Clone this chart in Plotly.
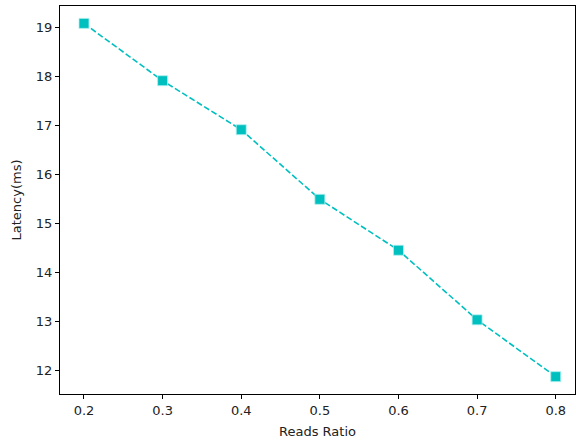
import plotly.graph_objects as go

reads_ratio = [0.2, 0.3, 0.4, 0.5, 0.6, 0.7, 0.8]
latency_ms = [19.08, 17.91, 16.91, 15.49, 14.45, 13.03, 11.87]
x_ticks = [0.2, 0.3, 0.4, 0.5, 0.6, 0.7, 0.8]
y_ticks = [12, 13, 14, 15, 16, 17, 18, 19]

fig = go.Figure()
fig.add_trace(go.Scatter(
    x=reads_ratio, y=latency_ms, mode="lines+markers",
    line=dict(color="#00bfbf", width=1.6, dash="6px,2.6px"),
    marker=dict(symbol="square", size=10, color="#00bfbf",
                line=dict(color="#b0f0f0", width=0.8)),
    showlegend=False,
))

axis_common = dict(
    showgrid=False, zeroline=False, showline=True, linecolor="black",
    linewidth=1, mirror=True, ticks="outside", ticklen=4, tickwidth=1,
    tickcolor="black", tickfont=dict(family="DejaVu Sans", size=13, color="#222"),
)
fig.update_layout(
    width=576, height=441,
    margin=dict(l=60, r=1, t=6, b=47),
    paper_bgcolor="white", plot_bgcolor="white",
    font=dict(family="DejaVu Sans", size=13, color="#222"),
    xaxis=dict(range=[0.1695, 0.8245], tickvals=x_ticks,
               ticktext=[f"{v:.1f}" for v in x_ticks],
               title=dict(text="Reads Ratio", standoff=10, font=dict(size=13)),
               **axis_common),
    yaxis=dict(range=[11.516, 19.435], tickvals=y_ticks,
               title=dict(text="Latency(ms)", standoff=11, font=dict(size=13)),
               **axis_common),
)
fig.write_html(
    "out.html",
    config={"displayModeBar": False},
    post_script="document.body.style.margin='0';document.body.style.overflow='hidden';",
)
